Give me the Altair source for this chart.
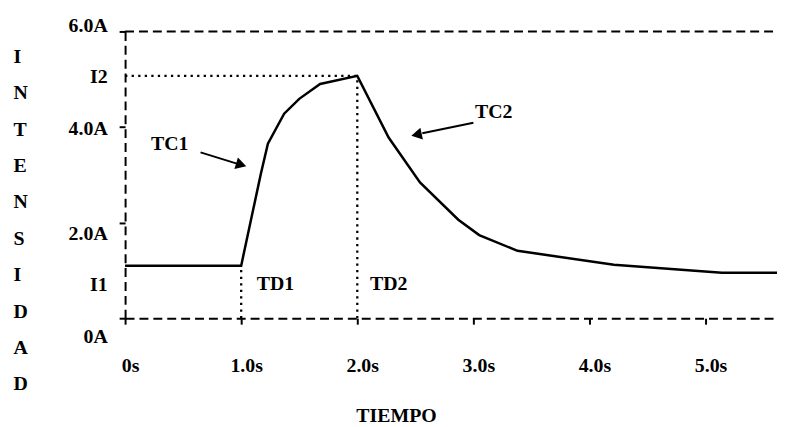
import altair as alt
import pandas as pd

# ---- data ----
time_s = [0.0, 1.0, 1.17, 1.23, 1.37, 1.50, 1.68, 2.0, 2.27, 2.54, 2.87, 3.05, 3.38, 4.21, 5.14, 5.62]
current_a = [1.1, 1.1, 3.03, 3.65, 4.28, 4.59, 4.90, 5.07, 3.78, 2.84, 2.06, 1.74, 1.41, 1.12, 0.95, 0.95]

TD1, TD2 = 1.0, 2.0
I1, I2 = 1.1, 5.07
X_MAX = 5.615
Y_MAX = 6.0

x_ticks = [0, 1, 2, 3, 4, 5]
x_labels = ["0s", "1.0s", "2.0s", "3.0s", "4.0s", "5.0s"]
y_ticks = [0, I1, 2, 4, I2, 6]
y_labels = ["0A", "I1", "2.0A", "4.0A", "I2", "6.0A"]

annot_text = ["TC1", "TC2", "TD1", "TD2"]
annot_t = [0.385, 3.175, 1.295, 2.27]
annot_i = [3.65, 4.32, 0.72, 0.72]

arrow_t = [0.65, 3.0]
arrow_i = [3.47, 4.09]
arrow_t2 = [0.97, 2.56]
arrow_i2 = [3.23, 3.87]
head_t = [1.0, 2.51]
head_i = [3.21, 3.84]

# ---- styles ----
FONT = "Liberation Serif"
FS = 20
y_label_offsets = {"6.0A": -6, "I2": 1, "4.0A": 2, "2.0A": 11, "I1": 19, "0A": 18}

def label_expr(values, labels):
    expr = "''"
    for v, l in reversed(list(zip(values, labels))):
        expr = f"abs(datum.value - {v}) < 0.001 ? '{l}' : ({expr})"
    return expr

y_offset_cond = {
    "condition": [
        {"test": f"abs(datum.value - {v}) < 0.001", "value": y_label_offsets[l]}
        for v, l in zip(y_ticks, y_labels)
    ],
    "value": 0,
}
y_tick_opacity = {
    "condition": {"test": f"abs(datum.value - {I1}) < 0.001 || abs(datum.value - {I2}) < 0.001", "value": 0},
    "value": 1,
}

curve_df = pd.DataFrame({"t": time_s, "i": current_a})
dotted_df = pd.DataFrame({"t": [0, TD1, TD2], "t2": [TD2, TD1, TD2],
                          "i": [I2, 0, 0], "i2": [I2, I1, I2]})
top_df = pd.DataFrame({"t": [0], "t2": [X_MAX], "i": [Y_MAX]})
annot_df = pd.DataFrame({"t": annot_t, "i": annot_i, "txt": annot_text})
shaft_df = pd.DataFrame({"t": arrow_t, "i": arrow_i, "t2": arrow_t2, "i2": arrow_i2})

xscale = alt.Scale(domain=[0, X_MAX], nice=False, zero=False)
yscale = alt.Scale(domain=[0, Y_MAX], nice=False, zero=False)

y_title = ["I", "N", "T", "E", "N", "S", "I", "D", "A", "D"]

x_axis = alt.Axis(
    values=x_ticks, labelExpr=label_expr(x_ticks, x_labels), title="TIEMPO",
    domainDash=[9, 5], domainWidth=2, domainColor="black",
    tickColor="black", tickWidth=2, tickSize=6,
    labelPadding=32, labelOffset=5, labelFlush=False, labelOverlap=False,
    titleX=273, titleY=104, titleAlign="center", titleBaseline="alphabetic",
    grid=False,
)
y_axis = alt.Axis(
    values=y_ticks, labelExpr=label_expr(y_ticks, y_labels),
    title=y_title,
    domainDash=[9, 5], domainWidth=2, domainColor="black",
    tickColor="black", tickWidth=2, tickSize=6, tickOpacity=y_tick_opacity,
    labelPadding=12, labelOffset=y_offset_cond, labelOverlap=False, labelFlush=False,
    labelBaseline="middle",
    titleAngle=0, titleAlign="left", titleBaseline="top",
    titleX=-113, titleY=15, titleLineHeight=36.7,
    grid=False,
)

X = alt.X("t:Q", scale=xscale, axis=x_axis, title="TIEMPO")
Y = alt.Y("i:Q", scale=yscale, axis=y_axis, title=y_title)

curve = alt.Chart(curve_df).mark_line(color="black", strokeWidth=2.5).encode(x=X, y=Y)

dotted = alt.Chart(dotted_df).mark_rule(color="black", strokeWidth=2.3, strokeDash=[2.3, 4.3]).encode(
    x=X, x2="t2:Q", y=Y, y2="i2:Q",
)

top_line = alt.Chart(top_df).mark_rule(color="black", strokeWidth=2, strokeDash=[9, 5]).encode(
    x=X, x2="t2:Q", y=Y,
)

annots = alt.Chart(annot_df).mark_text(
    font=FONT, fontWeight="bold", fontSize=FS, color="black", align="center", baseline="middle"
).encode(x=X, y=Y, text="txt:N")

shafts = alt.Chart(shaft_df).mark_rule(color="black", strokeWidth=2).encode(
    x=X, x2="t2:Q", y=Y, y2="i2:Q",
)

head1 = alt.Chart(pd.DataFrame({"t": [head_t[0]], "i": [head_i[0]]})).mark_point(
    shape="triangle-right", filled=True, size=150, angle=17, color="black", opacity=1
).encode(x=X, y=Y)

head2 = alt.Chart(pd.DataFrame({"t": [head_t[1]], "i": [head_i[1]]})).mark_point(
    shape="triangle-right", filled=True, size=150, angle=168, color="black", opacity=1
).encode(x=X, y=Y)

chart = alt.layer(curve, dotted, top_line, annots, shafts, head1, head2).properties(
    width=657, height=289,
    padding={"left": 118, "top": 22, "right": 0, "bottom": 108},
    autosize="none",
    background="white",
).configure_view(stroke=None).configure_axis(
    labelFont=FONT, labelFontWeight="bold", labelFontSize=FS, labelColor="black",
    titleFont=FONT, titleFontWeight="bold", titleFontSize=FS, titleColor="black",
)

chart.save("out.html", embed_options={"renderer": "svg", "actions": False})
